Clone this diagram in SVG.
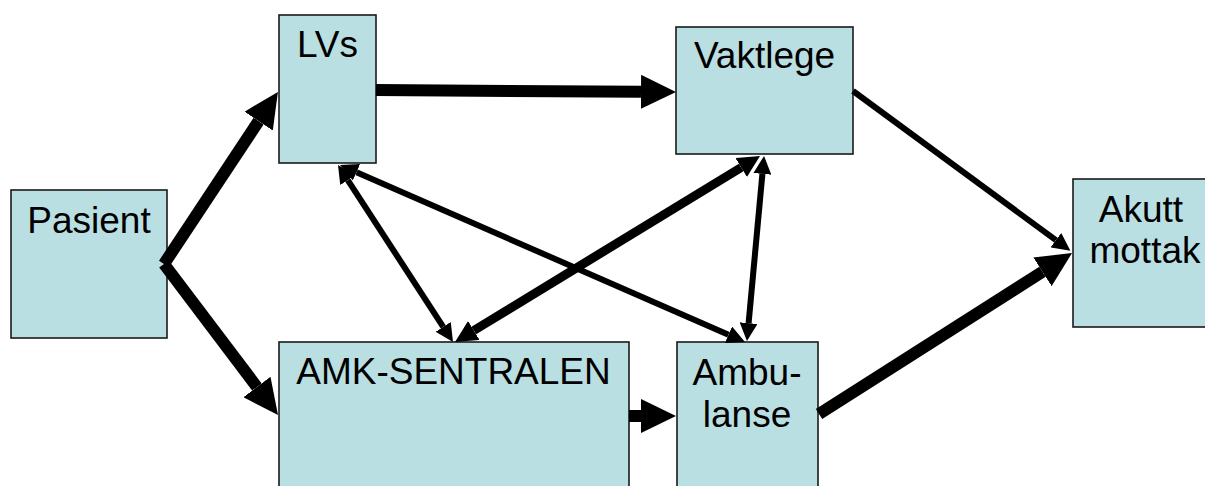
<svg xmlns="http://www.w3.org/2000/svg" width="1205" height="486" viewBox="0 0 1205 486">
<style>
.box{fill:#BADFE2;stroke:#1a1a1a;stroke-width:1.6}
.lbl{font-family:"Liberation Sans",Arial,sans-serif;font-size:37px;fill:#000;text-anchor:middle}
.c{stroke:#000;fill:none;stroke-linecap:butt}
.thick{stroke-width:12}
.mid{stroke-width:9}
.thin{stroke-width:6}
</style>
<defs>
<marker id="hb" markerUnits="userSpaceOnUse" viewBox="0 -17 35 34" markerWidth="35" markerHeight="34" refX="0" refY="0" orient="auto-start-reverse"><path d="M0,-17 L35,0 L0,17 z" fill="#000"/></marker>
<marker id="hm" markerUnits="userSpaceOnUse" viewBox="0 -11 22 22" markerWidth="22" markerHeight="22" refX="0" refY="0" orient="auto-start-reverse"><path d="M0,-11 L22,0 L0,11 z" fill="#000"/></marker>
<marker id="hs" markerUnits="userSpaceOnUse" viewBox="0 -9 18 18" markerWidth="18" markerHeight="18" refX="0" refY="0" orient="auto-start-reverse"><path d="M0,-9 L18,0 L0,9 z" fill="#000"/></marker>
</defs>
<rect width="1205" height="486" fill="#fff"/>
<g id="lvs"><rect class="box" x="279" y="15" width="97" height="148"/><text class="lbl" x="327.5" y="57">LVs</text></g>
<g id="vaktlege"><rect class="box" x="676" y="27" width="177" height="127"/><text class="lbl" x="764.5" y="68">Vaktlege</text></g>
<g id="pasient"><rect class="box" x="11" y="190" width="156" height="148"/><text class="lbl" x="89" y="233">Pasient</text></g>
<g id="akutt"><rect class="box" x="1073" y="179" width="145" height="148"/><text class="lbl" x="1141" y="222">Akutt</text><text class="lbl" x="1145" y="263">mottak</text></g>
<g id="amk"><rect class="box" x="279" y="342" width="350" height="160"/><text class="lbl" x="453.5" y="384">AMK-SENTRALEN</text></g>
<g id="ambulanse"><rect class="box" x="677" y="342" width="141" height="160"/><text class="lbl" x="747" y="385">Ambu-</text><text class="lbl" x="747" y="427">lanse</text></g>
<g id="connectors">
<line class="c thick" x1="164" y1="264" x2="258.6" y2="121.1" marker-end="url(#hb)"/>
<line class="c thick" x1="164" y1="264" x2="256.9" y2="387" marker-end="url(#hb)"/>
<line class="c thick" x1="376" y1="90" x2="641" y2="91.8" marker-end="url(#hb)"/>
<line class="c thin" x1="853" y1="91" x2="1055.9" y2="240.2" marker-end="url(#hs)"/>
<line class="c thick" x1="819" y1="414" x2="1042.5" y2="271.8" marker-end="url(#hb)"/>
<line class="c thick" x1="629" y1="416" x2="641" y2="416" marker-end="url(#hb)"/>
<line class="c thin" x1="347.8" y1="180.1" x2="443.2" y2="326.9" marker-start="url(#hs)" marker-end="url(#hs)"/>
<line class="c thin" x1="356.5" y1="172.2" x2="728.5" y2="334.8" marker-start="url(#hs)" marker-end="url(#hs)"/>
<line class="c mid" x1="473.8" y1="330.5" x2="741.2" y2="167.5" marker-start="url(#hm)" marker-end="url(#hm)"/>
<line class="c thin" x1="762.4" y1="173.9" x2="748.6" y2="323.1" marker-start="url(#hs)" marker-end="url(#hs)"/>
</g>
</svg>
